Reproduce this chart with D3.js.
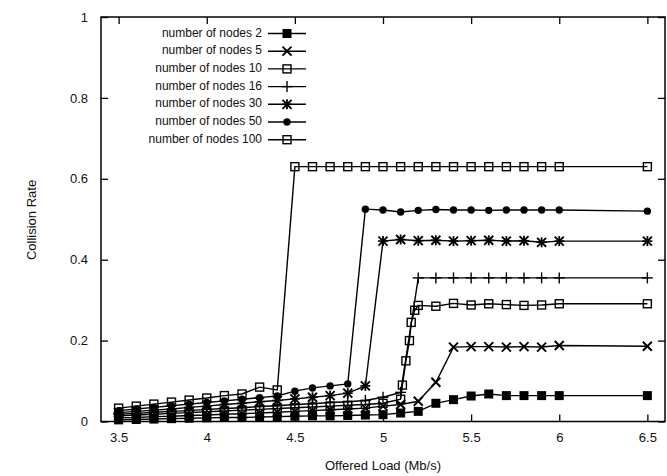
<!DOCTYPE html>
<html>
<head>
<meta charset="utf-8">
<script src="https://cdn.jsdelivr.net/npm/d3@7/dist/d3.min.js"></script>
<style>
  html, body { margin: 0; padding: 0; background: #fff; }
  svg { display: block; font-family: "Liberation Sans", Arial, Helvetica, sans-serif; }
</style>
</head>
<body>
<svg id="chart" width="667" height="476"></svg>
<script>
// Offered load (Mb/s) at which each run was measured
const offeredLoad = [3.5, 3.6, 3.7, 3.8, 3.9, 4.0, 4.1, 4.2, 4.3, 4.4, 4.5, 4.6, 4.7,
                     4.8, 4.9, 5.0, 5.1, 5.2, 5.3, 5.4, 5.5, 5.6, 5.7, 5.8, 5.9, 6.0, 6.5];

// Collision rate for each network size
const nodes2   = [0.004, 0.005, 0.006, 0.007, 0.008, 0.009, 0.010, 0.010, 0.011, 0.012, 0.013, 0.014, 0.014,
                  0.015, 0.016, 0.017, 0.021, 0.025, 0.045, 0.054, 0.063, 0.068, 0.064, 0.064, 0.064, 0.064, 0.064];
const nodes5   = [0.009, 0.010, 0.012, 0.013, 0.015, 0.016, 0.018, 0.019, 0.021, 0.023, 0.025, 0.027, 0.029,
                  0.031, 0.033, 0.038, 0.042, 0.050, 0.097, 0.184, 0.185, 0.185, 0.184, 0.185, 0.184, 0.188, 0.186];
const nodes10  = [0.014, 0.016, 0.018, 0.020, 0.022, 0.024, 0.026, 0.028, 0.030, 0.032, 0.034, 0.036, 0.038,
                  0.040, 0.042, 0.045, 0.055, 0.287, 0.285, 0.292, 0.288, 0.291, 0.289, 0.287, 0.288, 0.291, 0.291];
const nodes16  = [0.018, 0.020, 0.023, 0.025, 0.027, 0.030, 0.032, 0.034, 0.037, 0.039, 0.042, 0.044, 0.047,
                  0.049, 0.052, 0.060, 0.072, 0.355, 0.355, 0.355, 0.355, 0.355, 0.355, 0.355, 0.355, 0.355, 0.355];
const nodes30  = [0.022, 0.025, 0.028, 0.031, 0.035, 0.038, 0.042, 0.045, 0.049, 0.052, 0.056, 0.060, 0.064,
                  0.070, 0.088, 0.446, 0.450, 0.447, 0.448, 0.446, 0.447, 0.448, 0.446, 0.447, 0.443, 0.446, 0.446];
const nodes50  = [0.027, 0.031, 0.035, 0.039, 0.043, 0.047, 0.051, 0.055, 0.059, 0.063, 0.075, 0.083, 0.088,
                  0.093, 0.525, 0.523, 0.518, 0.522, 0.524, 0.523, 0.523, 0.522, 0.523, 0.523, 0.523, 0.523, 0.520];
const nodes100 = [0.033, 0.038, 0.043, 0.048, 0.053, 0.058, 0.064, 0.068, 0.085, 0.078, 0.630, 0.630, 0.630,
                  0.630, 0.630, 0.630, 0.630, 0.630, 0.630, 0.630, 0.630, 0.630, 0.630, 0.630, 0.630, 0.630, 0.630];

// Extra samples taken while the 10-node network jumps to its plateau
const rise10Load = [5.11, 5.13, 5.15, 5.16, 5.18];
const rise10Rate = [0.090, 0.150, 0.200, 0.245, 0.275];

const seriesLabels = ["number of nodes 2", "number of nodes 5", "number of nodes 10", "number of nodes 16",
                      "number of nodes 30", "number of nodes 50", "number of nodes 100"];
const seriesSymbols = ["filledSquare", "cross", "openSquare", "plus", "star", "filledCircle", "openSquare"];

const xTicks = [3.5, 4, 4.5, 5, 5.5, 6, 6.5];
const yTicks = [0, 0.2, 0.4, 0.6, 0.8, 1];

const xTitle = "Offered Load (Mb/s)";
const yTitle = "Collision Rate";

// ---- assemble the series ----
function pairs(values) { return offeredLoad.map((x, i) => ({ x, y: values[i] })); }
const p10 = pairs(nodes10).concat(rise10Load.map((x, i) => ({ x, y: rise10Rate[i] })))
  .sort((a, b) => a.x - b.x);
const seriesData = [pairs(nodes2), pairs(nodes5), p10, pairs(nodes16),
                    pairs(nodes30), pairs(nodes50), pairs(nodes100)];

// ---- layout ----
const svg = d3.select("#chart");
const plotLeft = 101, plotRight = 665, plotTop = 17, plotBottom = 421.5;

const x = d3.scaleLinear().domain([3.4, 6.6]).range([plotLeft, plotRight]);
const y = d3.scaleLinear().domain([0, 1]).range([plotBottom, plotTop]);

svg.append("rect").attr("width", 667).attr("height", 476).attr("fill", "#fff");

const tickLen = 7;
const axisStyle = g => {
  g.select(".domain").remove();
  g.selectAll(".tick line").attr("stroke", "#000").attr("stroke-width", 1.3);
  g.selectAll(".tick text").attr("fill", "#111").attr("font-size", 13)
    .attr("font-family", "Liberation Sans, Arial, sans-serif");
};

svg.append("g").attr("transform", `translate(0,${plotBottom})`)
  .call(d3.axisBottom(x).tickValues(xTicks).tickFormat(d3.format("")).tickSize(-tickLen).tickPadding(11))
  .call(axisStyle);
svg.append("g").attr("transform", `translate(0,${plotTop})`)
  .call(d3.axisTop(x).tickValues(xTicks).tickFormat("").tickSize(-tickLen))
  .call(axisStyle);
svg.append("g").attr("transform", `translate(${plotLeft},0)`)
  .call(d3.axisLeft(y).tickValues(yTicks).tickFormat(d3.format("")).tickSize(-tickLen).tickPadding(13))
  .call(axisStyle);
svg.append("g").attr("transform", `translate(${plotRight},0)`)
  .call(d3.axisRight(y).tickValues(yTicks).tickFormat("").tickSize(-tickLen))
  .call(axisStyle);

// plot frame
svg.append("rect")
  .attr("x", plotLeft).attr("y", plotTop)
  .attr("width", plotRight - plotLeft).attr("height", plotBottom - plotTop)
  .attr("fill", "none").attr("stroke", "#000").attr("stroke-width", 1.5);

// axis titles
svg.append("text").attr("x", 383).attr("y", 470).attr("text-anchor", "middle")
  .attr("font-size", 13).attr("fill", "#111").text(xTitle);
svg.append("text").attr("transform", "translate(33,220) rotate(-90)")
  .attr("text-anchor", "middle").attr("dominant-baseline", "middle")
  .attr("font-size", 13).attr("fill", "#111").text(yTitle);

// ---- point symbols ----
function drawSymbol(g, kind, cx, cy) {
  const s = g.append("g").attr("transform", `translate(${cx},${cy})`);
  const seg = (x1, y1, x2, y2, w) => s.append("line").attr("x1", x1).attr("y1", y1)
    .attr("x2", x2).attr("y2", y2).attr("stroke", "#000").attr("stroke-width", w || 1.6);
  if (kind === "filledSquare") {
    s.append("rect").attr("x", -4.5).attr("y", -4.5).attr("width", 9).attr("height", 9).attr("fill", "#000");
  } else if (kind === "openSquare") {
    s.append("rect").attr("x", -4).attr("y", -4).attr("width", 8).attr("height", 8)
      .attr("fill", "none").attr("stroke", "#000").attr("stroke-width", 1.4);
  } else if (kind === "cross") {
    seg(-4.5, -4.5, 4.5, 4.5, 1.9); seg(-4.5, 4.5, 4.5, -4.5, 1.9);
  } else if (kind === "plus") {
    seg(0, -5.5, 0, 5.5, 1.4); seg(-5.5, 0, 5.5, 0, 1.4);
  } else if (kind === "star") {
    // asterisk: diagonal cross with an upright bar
    seg(-4.5, -4.5, 4.5, 4.5, 1.9); seg(-4.5, 4.5, 4.5, -4.5, 1.9);
    seg(0, -5, 0, 5, 1.8); seg(-5, 0, 5, 0, 1.6);
  } else if (kind === "filledCircle") {
    s.append("circle").attr("r", 3.7).attr("fill", "#000");
  }
}

// ---- series lines and points ----
const line = d3.line().x(d => x(d.x)).y(d => y(d.y));
const plot = svg.append("g");
seriesData.forEach((data, i) => {
  plot.append("path").datum(data).attr("d", line)
    .attr("fill", "none").attr("stroke", "#000").attr("stroke-width", 1.4);
  const pts = plot.append("g");
  data.forEach(d => drawSymbol(pts, seriesSymbols[i], x(d.x), y(d.y)));
});

// ---- legend ----
const legend = svg.append("g");
seriesLabels.forEach((label, i) => {
  const ly = 33.5 + i * 17.7;
  legend.append("text").attr("x", 262).attr("y", ly).attr("text-anchor", "end")
    .attr("dominant-baseline", "middle").attr("font-size", 12).attr("fill", "#111").text(label);
  legend.append("line").attr("x1", 268).attr("x2", 306).attr("y1", ly).attr("y2", ly)
    .attr("stroke", "#000").attr("stroke-width", 1.4);
  drawSymbol(legend, seriesSymbols[i], 287, ly);
});
</script>
</body>
</html>
